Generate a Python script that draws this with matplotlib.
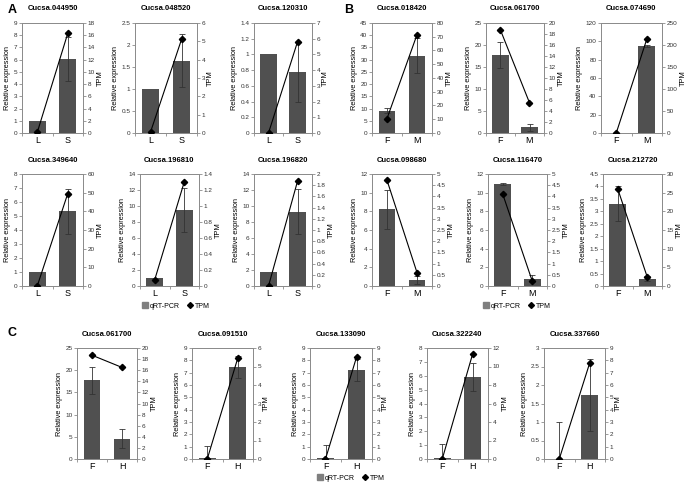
import numpy as np
import matplotlib.pyplot as plt
from matplotlib.lines import Line2D
from matplotlib.patches import Patch
from matplotlib.ticker import FuncFormatter

plt.rcParams['font.family'] = ['Liberation Sans', 'DejaVu Sans']

# data
genes = ['Cucsa.044950', 'Cucsa.048520', 'Cucsa.120310',
         'Cucsa.349640', 'Cucsa.196810', 'Cucsa.196820',
         'Cucsa.018420', 'Cucsa.061700', 'Cucsa.074690',
         'Cucsa.098680', 'Cucsa.116470', 'Cucsa.212720',
         'Cucsa.061700', 'Cucsa.091510', 'Cucsa.133090', 'Cucsa.322240', 'Cucsa.337660']
cats = [['L', 'S']] * 6 + [['F', 'M']] * 6 + [['F', 'H']] * 5
rel = [[1, 6.05], [1, 1.64], [1, 0.78],
       [1, 5.35], [1, 9.5], [1.7, 9.3],
       [9.2, 31.7], [17.7, 1.3], [0, 95],
       [8.2, 0.65], [10.9, 0.8], [3.3, 0.3],
       [17.7, 4.6], [0.06, 7.45], [0.1, 7.2], [0.05, 5.9], [0.0, 1.74]]
rel_err = [[0, 1.8], [0, 0.6], [0, 0.38],
           [0, 1.6], [0, 2.75], [0, 2.85],
           [1.0, 7.0], [3.0, 0.75], [0, 1.0],
           [2.05, 0.4], [0.1, 0.35], [0.7, 0.1],
           [3.0, 2.2], [1.0, 0.9], [1.0, 0.9], [1.0, 1.0], [1.0, 0.97]]
tpm = [[0.1, 16.3], [0.05, 5.1], [0, 5.8],
       [0, 49.5], [0.08, 1.3], [0, 1.87],
       [10.5, 71.5], [18.7, 5.5], [0, 213],
       [4.72, 0.6], [4.1, 0.22], [26, 2.4],
       [18.7, 16.5], [0, 5.45], [0, 8.25], [0, 11.4], [0, 7.8]]
left_lim = [(9, 1), (2.5, 0.5), (1.4, 0.2),
            (8, 1), (14, 2), (14, 2),
            (45, 5), (25, 5), (120, 20),
            (12, 2), (12, 2), (4.5, 0.5),
            (25, 5), (9, 1), (9, 1), (8, 1), (3, 0.5)]
right_lim = [(18, 2), (6, 1), (7, 1),
             (60, 10), (1.4, 0.2), (2, 0.2),
             (80, 10), (20, 2), (250, 50),
             (5, 0.5), (5, 0.5), (30, 5),
             (20, 2), (6, 1), (9, 1), (12, 2), (9, 1)]

# axes boxes in pixels: left, right, top, bottom
boxes = [(22, 83, 23, 133), (135, 197, 23, 133), (254, 312, 23, 133),
         (22, 83, 174, 286), (140, 199, 174, 286), (254, 312, 174, 286),
         (372, 432, 23, 133), (486, 544, 23, 133), (601, 662, 23, 133),
         (372, 432, 174, 286), (488, 547, 174, 286), (603, 662, 174, 286),
         (77, 137, 348, 459), (192, 253, 348, 459), (310, 372, 348, 459),
         (427, 488, 348, 459), (544, 605, 348, 459)]

W, H = 685, 484
fig = plt.figure(figsize=(W / 100, H / 100), dpi=100)

bar_col = '#505050'
spine_col = '#8c8c8c'
fmt = FuncFormatter(lambda v, p: ('%.2f' % v).rstrip('0').rstrip('.'))

for i in range(len(genes)):
    l, r, t, b = boxes[i]
    ax = fig.add_axes([l / W, 1 - b / H, (r - l) / W, (b - t) / H])
    x = np.arange(2)
    ax.bar(x, rel[i], width=0.56, color=bar_col, zorder=2)
    err = np.array(rel_err[i])
    lo = np.minimum(err, np.array(rel[i]))
    for k in range(2):
        if err[k] > 0:
            ax.errorbar(x[k], rel[i][k], yerr=[[lo[k]], [err[k]]], fmt='none',
                        ecolor='#333333', elinewidth=0.6, capsize=2, capthick=0.6, zorder=3)
    ax.set_xlim(-0.5, 1.5)
    ax.set_ylim(0, left_lim[i][0])
    ax.set_yticks(np.arange(0, left_lim[i][0] + 1e-9, left_lim[i][1]))
    ax.yaxis.set_major_formatter(fmt)
    ax.set_xticks([-0.5, 0.5, 1.5])
    ax.set_xticklabels([])
    ax.set_xticks(x, minor=True)
    ax.set_xticklabels(cats[i], minor=True, fontsize=6.5)
    ax.tick_params(axis='x', which='minor', length=0, pad=2.5)
    ax.tick_params(axis='x', which='major', length=2.5, width=0.6, color=spine_col)
    ax.tick_params(axis='y', labelsize=4.6, length=2, width=0.6, color=spine_col, pad=1.2,
                   labelcolor='#333333')
    ax.set_ylabel('Relative expression', fontsize=5.3, labelpad=2)
    ax.set_title(genes[i], fontsize=5.5, fontweight='bold', pad=9)
    for s in ax.spines.values():
        s.set_color(spine_col)
        s.set_linewidth(0.7)

    ax2 = ax.twinx()
    ax2.plot(x, tpm[i], color='black', lw=0.8, marker='D', ms=3.2, zorder=4)
    ax2.set_ylim(0, right_lim[i][0])
    ax2.set_yticks(np.arange(0, right_lim[i][0] + 1e-9, right_lim[i][1]))
    ax2.yaxis.set_major_formatter(fmt)
    ax2.tick_params(axis='y', labelsize=4.6, length=2, width=0.6, color=spine_col, pad=1.2,
                    labelcolor='#333333')
    ax2.set_ylabel('TPM', fontsize=5.3, labelpad=1.5)
    for s in ax2.spines.values():
        s.set_color(spine_col)
        s.set_linewidth(0.7)

fig.text(8 / W, 1 - 10 / H, 'A', fontsize=9, fontweight='bold', va='center')
fig.text(344 / W, 1 - 10 / H, 'B', fontsize=9, fontweight='bold', va='center')
fig.text(8 / W, 1 - 333 / H, 'C', fontsize=9, fontweight='bold', va='center')

handles = [Patch(color='#7f7f7f', label='qRT-PCR'),
           Line2D([], [], color='black', marker='D', ms=3, ls='none', label='TPM')]
for cx, cy in [(176, 306), (517, 306), (351, 478)]:
    fig.legend(handles=handles, loc='center', bbox_to_anchor=(cx / W, 1 - cy / H),
               ncol=2, frameon=False, fontsize=5, handlelength=0.8, handleheight=0.8,
               handletextpad=0.3, columnspacing=1.0)

fig.savefig('out.png', dpi=100)
